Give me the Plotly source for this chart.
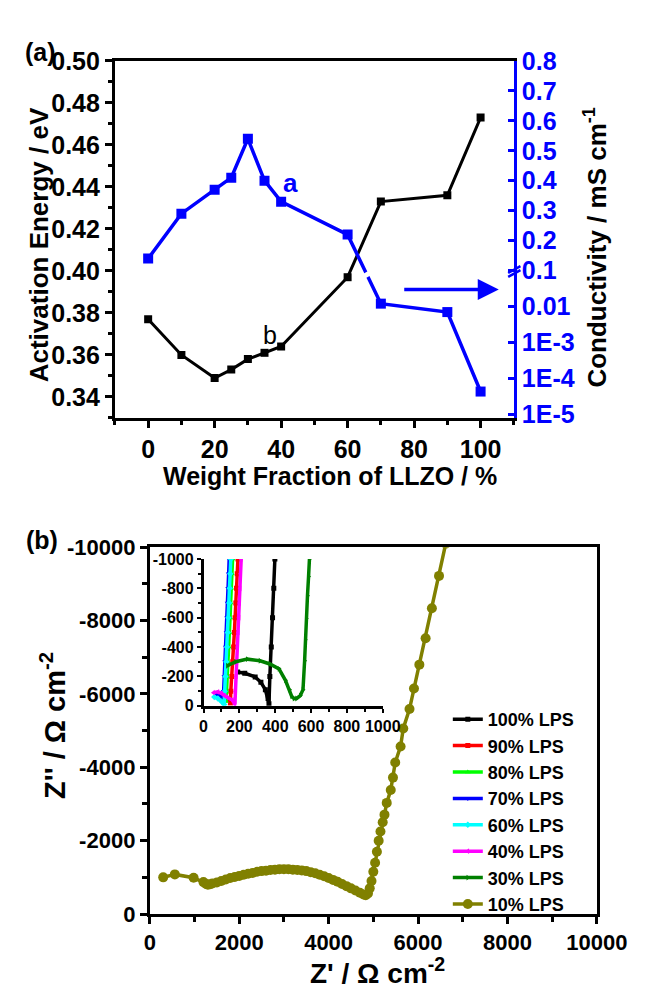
import math
import plotly.graph_objects as go

# ---------------- Panel (a) data ----------------
llzo_wt = [0, 10, 20, 25, 30, 35, 40, 60, 70, 90, 100]
act_energy = [0.377, 0.360, 0.349, 0.353, 0.358, 0.361, 0.364, 0.397, 0.433, 0.436, 0.473]
conductivity = [0.14, 0.29, 0.37, 0.41, 0.54, 0.40, 0.33, 0.22, 0.012, 0.007, 4.3e-5]
cond_tick_values = [0.8, 0.7, 0.6, 0.5, 0.4, 0.3, 0.2, 0.1, 0.01, 1e-3, 1e-4, 1e-5]
cond_tick_text = ["0.8", "0.7", "0.6", "0.5", "0.4", "0.3", "0.2", "0.1", "0.01", "1E-3", "1E-4", "1E-5"]

# ---------------- Panel (b) data ----------------
z_re_10 = [300, 560, 980, 1200, 1260, 1300, 1350, 1400, 1500, 1600, 1700, 1800, 1900, 2000, 2100,
           2200, 2300, 2400, 2500, 2600, 2700, 2800, 2900, 3000, 3100, 3200, 3300, 3400, 3500, 3600,
           3700, 3800, 3900, 4000, 4100, 4200, 4300, 4400, 4500, 4600, 4700, 4780, 4830, 4880, 4920,
           4960, 5000, 5040, 5080, 5120, 5160, 5210, 5250, 5300, 5390, 5440, 5490, 5610, 5670, 5810,
           5910, 6030, 6170, 6310, 6470, 6620]
z_im_10 = [-1000, -1080, -990, -870, -820, -800, -810, -830, -860, -900, -940, -980, -1010, -1040, -1070,
           -1100, -1120, -1150, -1170, -1180, -1200, -1210, -1220, -1220, -1220, -1210, -1200, -1190, -1170, -1140,
           -1110, -1070, -1030, -980, -930, -880, -820, -760, -700, -640, -580, -530, -510, -560, -700,
           -900, -1150, -1400, -1700, -2000, -2250, -2500, -2710, -3030, -3380, -3720, -4130, -4570, -5060, -5590,
           -6150, -6800, -7520, -8340, -9220, -10100]

z_re_100 = [190, 230, 288, 320, 345, 360, 365, 370, 378, 385, 392, 398]
z_im_100 = [-230, -222, -197, -160, -110, -50, -15, -200, -400, -600, -800, -1000]
z_re_90 = [120, 140, 150, 152, 158, 163, 168, 172, 176, 180, 184, 188, 192]
z_im_90 = [-80, -40, -20, -100, -200, -300, -400, -500, -600, -700, -800, -900, -1000]
z_re_80 = [110, 125, 128, 133, 137, 141, 145, 148, 151, 155, 158, 162]
z_im_80 = [-60, -30, -100, -200, -300, -400, -500, -600, -700, -800, -900, -1000]
z_re_70 = [70, 95, 105, 110, 112, 116, 120, 124, 128, 131, 134, 137, 140, 143]
z_im_70 = [-80, -70, -40, -20, -100, -200, -300, -400, -500, -600, -700, -800, -900, -1000]
z_re_60 = [60, 80, 100, 115, 118, 122, 127, 131, 135, 139, 143, 146, 149, 152]
z_im_60 = [-60, -50, -30, -10, -100, -200, -300, -400, -500, -600, -700, -800, -900, -1000]
z_re_40 = [55, 80, 100, 115, 130, 160, 175, 178, 182, 186, 190, 194, 198, 201, 204, 207, 210]
z_im_40 = [-90, -95, -85, -70, -60, -40, -10, -100, -200, -300, -400, -500, -600, -700, -800, -900, -1000]
z_re_30 = [133, 180, 244, 315, 370, 421, 457, 480, 492, 505, 519, 540, 555, 564, 568, 573, 580, 586, 591]
z_im_30 = [-273, -300, -318, -307, -285, -252, -174, -110, -64, -50, -50, -70, -110, -307, -450, -594, -750, -880, -1000]

inset_series = [
    ("100% LPS", z_re_100, z_im_100, "#000000", "square"),
    ("90% LPS", z_re_90, z_im_90, "#FF0000", "square"),
    ("80% LPS", z_re_80, z_im_80, "#00FF00", "triangle-up"),
    ("70% LPS", z_re_70, z_im_70, "#0000FF", "triangle-down"),
    ("60% LPS", z_re_60, z_im_60, "#00FFFF", "diamond"),
    ("40% LPS", z_re_40, z_im_40, "#FF00FF", "triangle-left"),
    ("30% LPS", z_re_30, z_im_30, "#008000", "triangle-right"),
]


def cond_axis(v):
    """Broken conductivity axis: linear above 0.1, one decade per 0.12 below."""
    if v >= 0.1:
        return v
    return 0.1 - 0.12 * math.log10(0.1 / v)


FONT = "Liberation Sans"
W, H = 650, 991


def px(x):
    return x / W


def py(y):
    return 1 - y / H


fig = go.Figure()

# Panel (a) traces
fig.add_trace(go.Scatter(
    x=llzo_wt, y=act_energy, mode="lines+markers", xaxis="x", yaxis="y",
    line=dict(color="black", width=3), marker=dict(symbol="square", size=8, color="black"),
    showlegend=False))
fig.add_trace(go.Scatter(
    x=llzo_wt, y=[cond_axis(v) for v in conductivity], mode="lines+markers", xaxis="x", yaxis="y2",
    line=dict(color="#0000FF", width=3.5), marker=dict(symbol="square", size=10, color="#0000FF"),
    showlegend=False))

# Panel (b) inset traces
for name, xs, ys, col, sym in inset_series:
    fig.add_trace(go.Scatter(
        x=xs, y=ys, mode="lines+markers", xaxis="x4", yaxis="y4", name=name,
        line=dict(color=col, width=3.5), marker=dict(symbol=sym, size=5, color=col)))

# Panel (b) main trace
fig.add_trace(go.Scatter(
    x=z_re_10, y=z_im_10, mode="lines+markers", xaxis="x3", yaxis="y3", name="10% LPS",
    line=dict(color="#808000", width=3.5), marker=dict(symbol="circle", size=10, color="#808000")))

axis_common = dict(showgrid=False, zeroline=False, showline=True, linecolor="black", linewidth=3,
                   ticks="outside", tickcolor="black", tickwidth=2.5, ticklen=7)

fig.update_layout(
    width=W, height=H, margin=dict(l=0, r=0, t=0, b=0),
    paper_bgcolor="white", plot_bgcolor="rgba(0,0,0,0)",
    font=dict(family=FONT, color="black"),
    xaxis=dict(domain=[px(107), px(530)], anchor="y", range=[-10, 110], tick0=0, dtick=20,
               mirror=True, tickfont=dict(size=25, weight="bold"),
               minor=dict(ticks="outside", dtick=10, tick0=0, ticklen=4, tickwidth=2.5, tickcolor="black"),
               **axis_common),
    yaxis=dict(domain=[py(407), py(40)], anchor="x", range=[0.33, 0.50], tick0=0.34, dtick=0.02,
               tickformat=".2f", tickfont=dict(size=25, weight="bold"),
               minor=dict(ticks="outside", dtick=0.01, tick0=0.33, ticklen=4, tickwidth=2.5, tickcolor="black"),
               **axis_common),
    yaxis2=dict(overlaying="y", side="right", anchor="x", range=[-0.392, 0.8],
                tickmode="array", tickvals=[cond_axis(v) for v in cond_tick_values], ticktext=cond_tick_text,
                showgrid=False, zeroline=False, showline=True, linecolor="#0000FF", linewidth=3,
                ticks="inside", tickcolor="#0000FF", tickwidth=2.5, ticklen=6,
                tickfont=dict(size=25, weight="bold", color="#0000FF")),
    xaxis3=dict(domain=[px(144), px(618)], anchor="y3", range=[0, 10000], mirror=True,
                tickmode="array", tickvals=[0, 2000, 4000, 6000, 8000, 10000],
                ticktext=["0", "2000", "4000", "6000", "8000", "10000"],
                tickfont=dict(size=22, weight="bold"),
                minor=dict(ticks="outside", tickmode="array", tickvals=[1000, 3000, 5000, 7000, 9000],
                           ticklen=5, tickwidth=2.5, tickcolor="black"),
                **axis_common),
    yaxis3=dict(domain=[py(917), py(540)], anchor="x3", range=[0, -10000], mirror=True,
                tickmode="array", tickvals=[0, -2000, -4000, -6000, -8000, -10000],
                ticktext=["0", "-2000", "-4000", "-6000", "-8000", "-10000"],
                tickfont=dict(size=22, weight="bold"),
                minor=dict(ticks="outside", tickmode="array", tickvals=[-1000, -3000, -5000, -7000, -9000],
                           ticklen=5, tickwidth=2.5, tickcolor="black"),
                **axis_common),
    xaxis4=dict(domain=[px(201), px(391)], anchor="y4", range=[0, 1000],
                tickmode="array", tickvals=[0, 200, 400, 600, 800, 1000],
                ticktext=["0", "200", "400", "600", "800", "1000"],
                tickfont=dict(size=16, weight="bold"),
                minor=dict(ticks="outside", tickmode="array", tickvals=[100, 300, 500, 700, 900],
                           ticklen=3, tickwidth=2, tickcolor="black"),
                showgrid=False, zeroline=False, showline=True, linecolor="black", linewidth=2.5,
                ticks="outside", tickcolor="black", tickwidth=2, ticklen=4),
    yaxis4=dict(domain=[py(703), py(552)], anchor="x4", range=[0, -1000],
                tickmode="array", tickvals=[0, -200, -400, -600, -800, -1000],
                ticktext=["0", "-200", "-400", "-600", "-800", "-1000"],
                tickfont=dict(size=16, weight="bold"),
                minor=dict(ticks="outside", tickmode="array", tickvals=[-100, -300, -500, -700, -900],
                           ticklen=3, tickwidth=2, tickcolor="black"),
                showgrid=False, zeroline=False, showline=True, linecolor="black", linewidth=2.5,
                ticks="outside", tickcolor="black", tickwidth=2, ticklen=4),
    legend=dict(x=px(460), y=py(698), xanchor="left", yanchor="top", bgcolor="rgba(0,0,0,0)",
                font=dict(size=18, weight="bold", family=FONT), traceorder="normal",
                itemwidth=30),
)

ann = []


def add_text(text, x, y, size, color="black", angle=0, weight="bold"):
    ann.append(dict(text=text, x=px(x), y=py(y), xref="paper", yref="paper", showarrow=False,
                    xanchor="center", yanchor="middle", textangle=angle,
                    font=dict(size=size, color=color, family=FONT, weight=weight)))


add_text("(a)", 28, 31, 25)
add_text("(b)", 30, 532, 25)
add_text("Activation Energy / eV", 26, 229, 26, angle=-90)
add_text("Conductivity / mS cm<sup>-1</sup>", 617, 231, 26, angle=-90)
add_text("Weight Fraction of LLZO / %", 335, 467, 25)
add_text("a", 293, 165, 26, color="#0000FF")
add_text("b", 271, 322, 25, weight="normal")
add_text("Z'' / Ω cm<sup>-2</sup>", 42, 723, 29, angle=-90)
add_text("Z' / Ω cm<sup>-2</sup>", 385, 976, 28)

# arrow pointing to right axis
ann.append(dict(x=px(514), y=py(275), ax=-96, ay=0, xref="paper", yref="paper",
                axref="pixel", ayref="pixel", showarrow=True, arrowhead=2, arrowsize=1.2,
                arrowwidth=3.5, arrowcolor="#0000FF", text=""))

fig.update_layout(annotations=ann)

# axis-break marks
shapes = [
    dict(type="line", xref="paper", yref="paper", x0=px(370), y0=py(262), x1=px(381), y1=py(256),
         line=dict(color="white", width=5)),
    dict(type="line", xref="paper", yref="paper", x0=px(524), y0=py(262), x1=px(537), y1=py(255),
         line=dict(color="#0000FF", width=2.5)),
    dict(type="line", xref="paper", yref="paper", x0=px(524), y0=py(258), x1=px(537), y1=py(251),
         line=dict(color="#0000FF", width=2.5)),
]
fig.update_layout(shapes=shapes)

fig.write_html("out.html")
